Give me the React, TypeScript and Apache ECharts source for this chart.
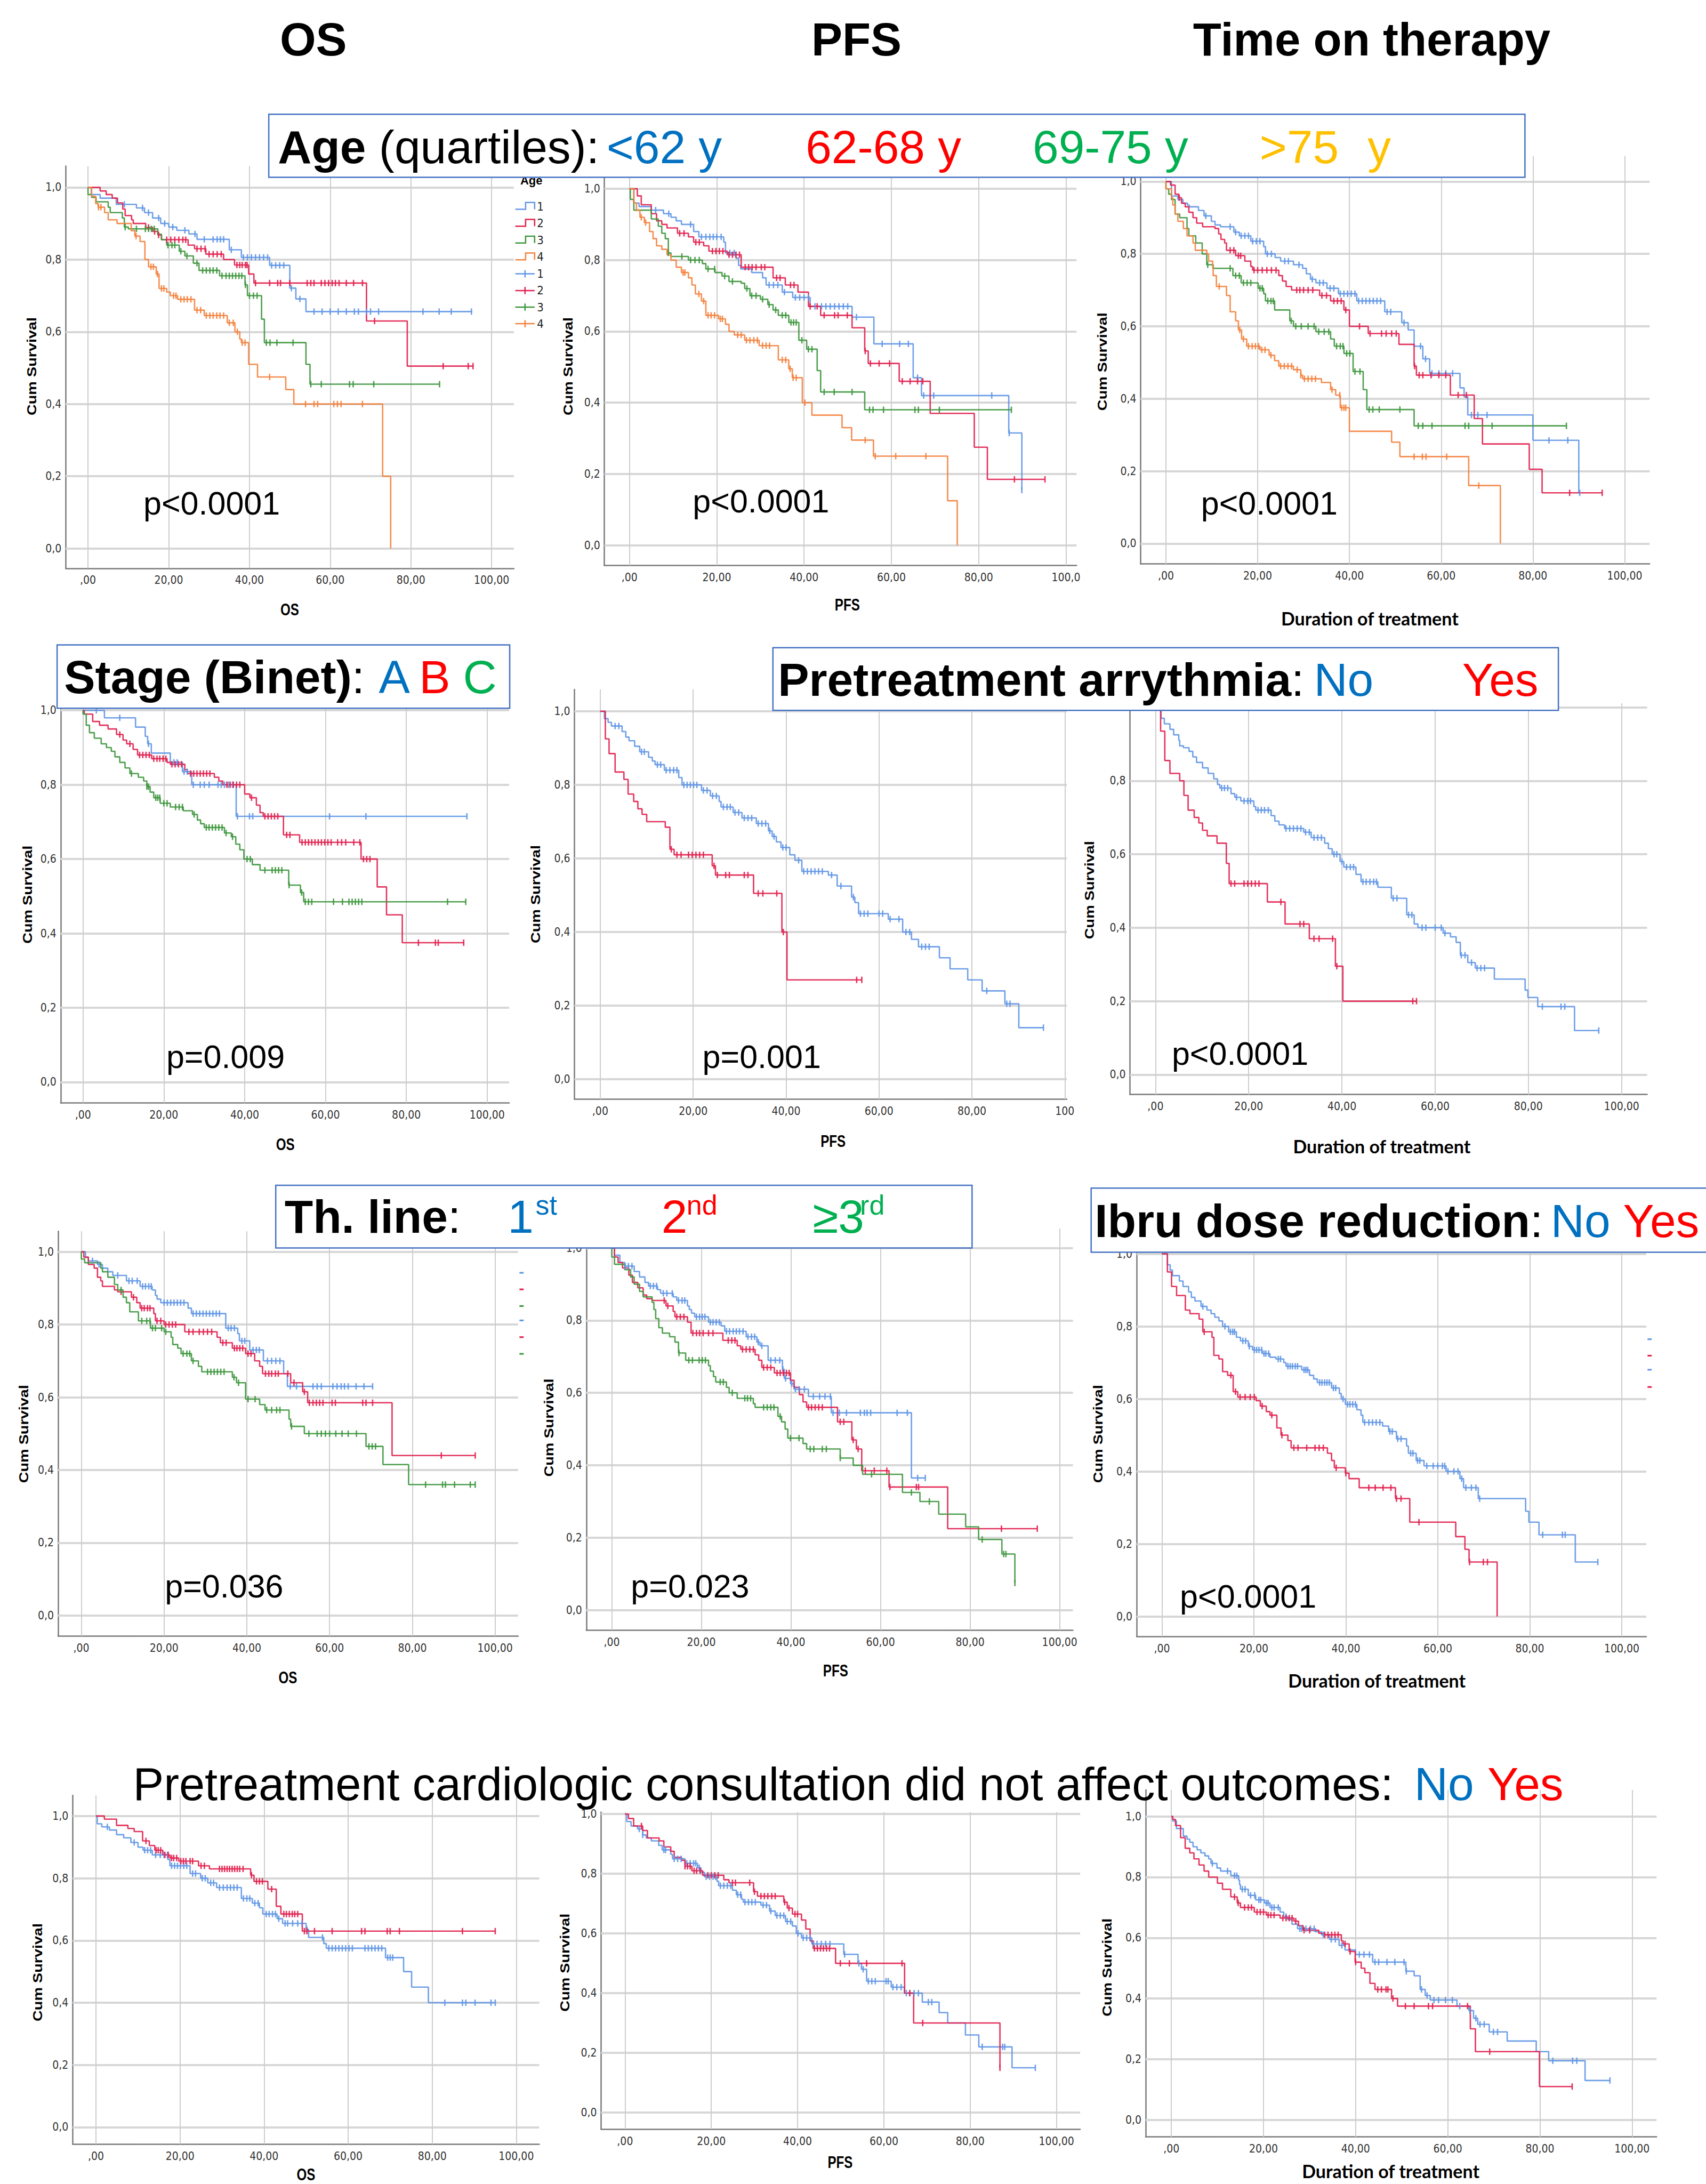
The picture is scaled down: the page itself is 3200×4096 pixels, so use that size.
import React, { useEffect, useRef } from 'react';
import * as echarts from 'echarts';

const S = 3200 / 1225;
const ARIAL = "'Liberation Sans', Arial, Helvetica, sans-serif";
const NARROW = "'Liberation Sans Narrow', 'Arial Narrow', 'DejaVu Sans Condensed', 'Liberation Sans', sans-serif";
const CAL = "Lato, 'Open Sans', 'Liberation Sans', sans-serif";

const BLUE = '#6297e6';
const RED = '#e2224f';
const GREEN = '#3f973f';
const ORANGE = '#f4823f';
const H_BLUE = '#0070C0';
const H_RED = '#FF0000';
const H_GREEN = '#00B050';
const H_AMBER = '#FFC000';

const xTickValues = [0, 20, 40, 60, 80, 100];
const yTickValues = [0, 0.2, 0.4, 0.6, 0.8, 1];

// ---------- Row 1: Age quartiles ----------
const osAgeQ1Steps = [[0.8,0.98],[3,0.97],[7,0.953],[12,0.943],[14,0.93],[16,0.915],[18,0.9],[20,0.89],[22,0.881],[25,0.871],[27,0.856],[35,0.827],[38,0.806],[45,0.784],[50,0.721],[51.5,0.691],[54,0.656],[95.2,0.656]];
const osAgeQ1Cens = [9,13.5,15,17.5,19,21,24,26.5,28.8,31,32,32.8,33.6,35.5,38.5,39.5,40.5,41.5,42.5,43.5,44.5,45.5,46.5,47.5,48.5,50.4,52.5,56,58,60,62,64,66,67,69,70,72,83,87,90,95];
const osAgeQ2Steps = [[3,0.99],[4.5,0.98],[6,0.97],[7.3,0.957],[8.6,0.94],[9.2,0.922],[10.8,0.91],[11.2,0.9],[14.3,0.889],[16,0.878],[17.3,0.868],[18.2,0.855],[24.8,0.84],[26.4,0.83],[29.2,0.815],[33.6,0.8],[36.3,0.785],[39.8,0.76],[41.1,0.735],[69,0.63],[79.1,0.505],[95.4,0.505]];
const osAgeQ2Cens = [15,16.5,17.5,19.5,20.5,21.5,22.5,23.5,24.2,27,28,29,30,31,32,33,36.9,37.6,38.2,39,39.4,41.5,45,47,47.7,50,54.3,55.2,56,57.8,58.7,59.6,60.5,61.3,62.2,64,65.8,68,71,88,94.2,95.4];
const osAgeQ3Steps = [[0,0.98],[0.9,0.972],[2,0.96],[5,0.945],[5.5,0.93],[8.5,0.915],[9,0.89],[10,0.885],[17.3,0.87],[18.2,0.855],[19.5,0.84],[22.6,0.823],[24,0.81],[26.1,0.79],[27.5,0.77],[32.6,0.755],[38.9,0.73],[39.5,0.7],[43,0.635],[43.7,0.57],[54,0.51],[55,0.455],[87.1,0.455]];
const osAgeQ3Cens = [9.2,12,14.2,15,15.7,16.4,19.8,20.8,21.5,23,24.5,27,28.4,29.3,30.2,31,31.9,33.2,34.2,35,35.8,36.6,37.4,38.1,39,40,41,41.9,44.2,45.1,46.8,50.8,55.2,57.8,64.8,65.7,70.8,87.1];
const osAgeQ4Steps = [[0.9,0.975],[1.9,0.955],[2.5,0.945],[4.1,0.93],[5,0.91],[7.2,0.9],[10.7,0.88],[11.6,0.865],[12.9,0.85],[14.1,0.8],[15,0.78],[16.9,0.76],[17.6,0.72],[19.5,0.71],[20.4,0.7],[22.2,0.69],[26.4,0.66],[28.8,0.645],[34.5,0.625],[36.4,0.6],[37.6,0.58],[38,0.57],[39.8,0.51],[42,0.475],[49,0.44],[51,0.4],[73,0.2],[75,0]];
const osAgeQ4Cens = [2.6,3.2,11.9,15.6,16.2,17.2,18.2,18.8,21.2,21.8,23,23.8,24.6,25.5,27,27.9,29.3,30.2,31,31.9,32.7,33.6,35,36,37,38.2,38.9,45,53.9,56,56.9,60.9,61.8,62.7,68];

const pfsAgeQ1Steps = [[1,0.96],[2.2,0.95],[5,0.94],[7.8,0.93],[9.5,0.92],[10.7,0.91],[11.9,0.9],[14.7,0.88],[15.9,0.865],[21.6,0.85],[22,0.82],[24.4,0.805],[25,0.785],[25.5,0.775],[28,0.765],[30.5,0.75],[31.3,0.73],[35,0.71],[37.4,0.695],[41.4,0.67],[51,0.64],[56,0.565],[65,0.47],[66.9,0.42],[86.9,0.315],[89.9,0.155]];
const pfsAgeQ1Cens = [6,9,14,16.5,17.5,18.4,19.2,20,21,23,24,32,33,34,35.5,38,39,40,41,42.5,44,45,46,47,48,49,50,52,57.9,61.9,63.9,66,67.4,69.7,83,87,89.9];
const pfsAgeQ2Steps = [[1.8,0.98],[2.7,0.955],[5,0.93],[6.2,0.91],[7.4,0.9],[8.6,0.89],[11,0.875],[13.5,0.865],[14.7,0.85],[17,0.84],[18.2,0.825],[22.4,0.815],[25.6,0.78],[32.9,0.75],[35.7,0.73],[38.6,0.71],[41,0.67],[43.8,0.645],[51,0.61],[53.9,0.545],[54.7,0.51],[61.8,0.46],[68.9,0.37],[79,0.275],[82,0.185],[95.2,0.185]];
const pfsAgeQ2Cens = [11.5,12.5,15.2,16,19,19.8,20.6,21.4,22.8,23.6,24.4,25.2,26.5,27.3,28.1,29,30.2,31,33.7,34.5,36.9,37.7,41.4,43,44.6,47,47.8,49.9,54,55.2,57.2,59.6,62.5,64.3,66,67.2,88.2,95.2];
const pfsAgeQ3Steps = [[0.2,0.97],[1,0.94],[5,0.915],[6.6,0.895],[7.4,0.875],[8.2,0.86],[8.9,0.82],[9.5,0.81],[13.5,0.8],[16.7,0.79],[17.5,0.775],[19.6,0.765],[21.2,0.755],[22.8,0.74],[25.6,0.735],[26.4,0.72],[27.6,0.7],[30,0.69],[31.7,0.675],[32.9,0.66],[34.1,0.645],[36.5,0.625],[38.8,0.575],[40.6,0.55],[43,0.49],[43.8,0.43],[53.9,0.38],[87.5,0.38]];
const pfsAgeQ3Cens = [8.9,12,14,15,16,18,19.5,21.8,23.6,26.9,28,29,30.5,32,33.5,35,35.8,37,37.6,38.2,39.5,41,41.8,44.6,46.9,51,55,55.8,58.2,65.4,66.2,71,87.5];
const pfsAgeQ4Steps = [[1,0.96],[1.6,0.94],[2.4,0.92],[3.4,0.905],[4.6,0.88],[5.4,0.86],[6.2,0.84],[7.4,0.83],[8.6,0.815],[9.5,0.8],[10.7,0.78],[11.9,0.765],[13.5,0.75],[14.3,0.73],[15.1,0.705],[16.5,0.685],[17.5,0.645],[20.4,0.635],[22,0.62],[22.8,0.6],[24,0.59],[26.4,0.575],[29.7,0.56],[34.1,0.52],[36.5,0.495],[37.3,0.47],[39.6,0.4],[41.8,0.365],[48.7,0.33],[50.9,0.295],[55.9,0.25],[72.9,0.125],[75.1,0]];
const pfsAgeQ4Cens = [2.7,3.7,12.3,12.7,15.9,17,18,18.7,19.5,20.8,21.3,24.8,25.6,26.8,27.6,28.5,29.3,30.5,31.3,32.1,35,35.8,36.8,37.5,38.2,40.2,54,56.3,61,67.9];

const totAgeQ1Steps = [[1.2,0.96],[2.6,0.95],[3.7,0.94],[4.7,0.935],[5.1,0.93],[7.1,0.92],[8.3,0.905],[9.9,0.89],[10.7,0.88],[11.9,0.875],[14.8,0.86],[16,0.85],[18.5,0.835],[21.3,0.82],[21.7,0.8],[23.8,0.79],[25,0.78],[27.8,0.77],[29.8,0.76],[30.6,0.745],[31.5,0.73],[32.7,0.72],[35.1,0.705],[37.6,0.69],[41.6,0.67],[47.7,0.64],[51.4,0.61],[52.8,0.59],[54.1,0.545],[56,0.51],[57.5,0.47],[64.1,0.43],[65,0.405],[65.8,0.355],[80,0.285],[90,0.14],[90.2,0.14]];
const totAgeQ1Cens = [8.7,14,15.2,16.4,17.2,18,18.9,19.7,20.5,22.1,23,25.9,26.7,29,31.9,33.5,34.3,35.8,36.6,38,38.8,39.6,40.4,41.2,42,42.8,43.6,44.4,45.2,46,46.8,48.2,49,51.9,55.5,56.6,58,59.5,61,62.5,66.6,68,70,83.5,87.6,90.2];
const totAgeQ2Steps = [[1,0.99],[2,0.965],[2.8,0.955],[3.4,0.94],[4.2,0.93],[5,0.915],[5.9,0.9],[6.7,0.885],[8,0.875],[10.7,0.87],[11.5,0.855],[12,0.84],[12.8,0.83],[13.2,0.81],[15.2,0.795],[17.2,0.78],[18.5,0.765],[18.9,0.755],[24.6,0.74],[25.4,0.725],[26.2,0.71],[27.4,0.7],[33.5,0.685],[35.9,0.67],[38.8,0.645],[40,0.6],[44.1,0.58],[50.8,0.55],[54.1,0.49],[54.6,0.465],[62,0.41],[67.2,0.345],[69,0.275],[79.2,0.205],[82,0.14],[95.1,0.14]];
const totAgeQ2Cens = [2.9,14,14.8,15.8,16.3,19.2,20,21,22,23,24,28.5,29.2,30,31,32,34,35,36.6,37.4,38.2,39.2,42.2,44.5,47,48,49.2,50.2,54.2,55.2,56,57.8,59.5,61,63.7,65.5,88,95.1];
const totAgeQ3Steps = [[0,0.98],[0.6,0.965],[1.2,0.95],[2,0.91],[3,0.9],[4.6,0.87],[5,0.85],[6.5,0.83],[7.9,0.8],[8.9,0.77],[10.3,0.76],[14.6,0.74],[16.4,0.72],[20.1,0.705],[21.3,0.69],[21.7,0.67],[23.7,0.645],[27,0.615],[27.8,0.6],[32.7,0.585],[35.9,0.565],[36.7,0.545],[38.8,0.525],[40.8,0.475],[43,0.425],[43.8,0.37],[54.1,0.325],[87.3,0.325]];
const totAgeQ3Cens = [9.1,14,15.2,16,16.9,17.7,18.5,20.5,21,22.2,22.9,23.4,27.3,28.3,29.5,31,32.3,33.3,34.5,35.5,37.2,38,38.6,39.4,40.1,41.2,42.3,44.3,45.1,46.5,51,55,56,58,65.2,66,71.1,87.3];
const totAgeQ4Steps = [[0,0.98],[1.2,0.955],[1.5,0.935],[2,0.91],[2.6,0.89],[3.8,0.87],[4.6,0.85],[5.9,0.83],[6.4,0.81],[8.9,0.8],[9.3,0.78],[10.2,0.76],[10.3,0.74],[11,0.71],[13.2,0.685],[14,0.64],[15.2,0.615],[15.8,0.59],[16.5,0.565],[17.6,0.545],[20.5,0.535],[22.5,0.52],[23.7,0.505],[24.6,0.49],[27.8,0.48],[29.4,0.465],[29.8,0.455],[33.9,0.445],[35.9,0.425],[37,0.41],[38,0.375],[40,0.31],[49.2,0.28],[51,0.24],[66,0.16],[72.9,0]];
const totAgeQ4Cens = [11.6,16.1,16.9,18,18.8,19.5,20.2,20.9,21.6,22.9,25,25.8,26.6,27.4,28.6,29.4,30.2,31,31.8,32.6,36.2,37.9,38.3,38.8,39.2,54.1,55.9,56.7,61.2,68.2];

// ---------- Row 2: Binet stage (OS), arrhythmia (PFS, ToT) ----------
const osStageASteps = [[5.3,0.98],[13,0.955],[15.4,0.93],[16,0.91],[16.9,0.885],[21.6,0.86],[24.6,0.835],[26.9,0.8],[37.9,0.715],[95,0.715]];
const osStageACens = [3.3,9.1,16.2,22.5,23.3,25,25.8,27.3,29,30,31.2,33.4,34.2,35,36,37,38.2,41.2,42,61,70,95];
const osStageBSteps = [[0.3,0.99],[2.4,0.97],[4.1,0.96],[6.2,0.95],[8.3,0.935],[9.9,0.92],[10.8,0.91],[12.4,0.895],[13.5,0.88],[17,0.87],[20.8,0.86],[21.6,0.855],[25.2,0.84],[25.8,0.83],[32.5,0.82],[33.6,0.81],[34.6,0.8],[40,0.775],[41.3,0.765],[42.9,0.745],[43.8,0.725],[44.6,0.715],[49.6,0.665],[53.6,0.645],[68.8,0.6],[72.8,0.525],[75.1,0.45],[79,0.375],[94.2,0.375]];
const osStageBCens = [9.1,11.6,14,14.8,15.6,16.4,17.5,18.3,19,19.8,20.5,22,22.8,23.6,24.4,26.6,27.4,28.2,29,29.8,30.6,31.4,35.6,36.4,37.2,38,38.8,41.7,45,45.8,46.6,47.4,48.2,50.4,51.2,54.2,55,55.8,56.6,57.4,58.2,59,59.8,60.6,61.4,63,64,65,67,68.5,69.4,70.2,71,83,87.2,87.9,94.2];
const osStageCSteps = [[0,0.99],[0.8,0.96],[1.6,0.94],[2.8,0.925],[4.5,0.91],[5.8,0.9],[7,0.89],[7.9,0.875],[9.1,0.86],[10.4,0.845],[11.6,0.83],[13.7,0.82],[15,0.81],[15.8,0.795],[16.6,0.78],[17.5,0.765],[19.1,0.75],[21.6,0.74],[24.8,0.73],[27.1,0.72],[28.3,0.705],[29.1,0.695],[30,0.685],[35,0.67],[36.7,0.66],[37.8,0.64],[38.8,0.625],[39.8,0.6],[41.9,0.585],[43.8,0.57],[50.9,0.53],[53.8,0.51],[54.6,0.485],[94.7,0.485]];
const osStageCCens = [12,15.8,16.2,18,18.5,19,20,20.8,22.9,23.8,24.6,27.5,30.5,31.2,32,32.8,33.6,34.4,35.4,37,40.6,41.4,45,46.8,47.6,48.4,49.2,51,54.1,55,55.8,56.6,62,64.2,65.8,66.6,67.4,68.2,69,90.2,94.7];

const pfsArrNoSteps = [[0.9,0.98],[1.7,0.97],[2.4,0.96],[4.7,0.945],[5.5,0.93],[6.2,0.92],[7.4,0.905],[8.5,0.89],[10.4,0.875],[11.2,0.865],[11.8,0.855],[13.8,0.84],[16.9,0.82],[17.6,0.8],[21.8,0.785],[23.7,0.77],[25.6,0.755],[26,0.74],[28.6,0.725],[30.5,0.71],[33.6,0.695],[36.2,0.675],[37,0.66],[37.9,0.645],[38.9,0.63],[40.8,0.61],[41.9,0.595],[43.4,0.565],[49.1,0.555],[51,0.525],[54.1,0.495],[54.8,0.48],[55.6,0.45],[62,0.435],[65.1,0.4],[67,0.38],[68.5,0.36],[73,0.33],[75.3,0.3],[79.1,0.27],[82.2,0.24],[87.1,0.205],[90.1,0.14],[95.4,0.14]];
const pfsArrNoCens = [3.2,4,8.9,9.5,12.3,13,14.2,15,15.8,16.5,18,18.7,19.4,20.1,20.8,22.2,23,24.2,25,26.5,27.3,28,29,29.8,31,31.8,32.6,34,34.8,35.6,36.5,37.4,39.3,40,42.7,43.8,44.6,45.4,46.2,47,47.8,49.8,51.8,54.5,56,56.8,57.6,60,60.8,62.4,64.3,65.8,66.6,69.2,70,70.8,83.2,87.5,88.2,95.4];
const pfsArrYesSteps = [[1.1,0.925],[1.9,0.885],[3.2,0.835],[5.1,0.815],[6,0.775],[7.2,0.755],[8.1,0.735],[9,0.72],[10,0.7],[14,0.685],[15,0.625],[15.9,0.61],[24.1,0.58],[24.8,0.555],[33,0.505],[39.1,0.4],[40.2,0.27],[56.3,0.27]];
const pfsArrYesCens = [15.3,16.5,17.4,19,19.8,20.6,21.4,22.2,24.5,25.2,27,27.8,31,31.8,34,35,38,39.4,55.2,56.3];

const totArrNoSteps = [[1.2,0.97],[1.9,0.955],[3.1,0.94],[3.9,0.925],[5,0.91],[5.2,0.895],[6,0.89],[7.2,0.88],[8,0.865],[8.8,0.85],[10.1,0.835],[11.3,0.82],[12.5,0.805],[13.3,0.79],[13.8,0.78],[16.2,0.765],[17,0.755],[18.3,0.745],[21.1,0.73],[21.5,0.72],[24.8,0.705],[25.6,0.69],[26.5,0.68],[27.7,0.67],[31.8,0.66],[33.4,0.645],[36.3,0.63],[37.1,0.615],[37.9,0.6],[39.6,0.58],[40.4,0.565],[43,0.545],[44.1,0.525],[47.7,0.51],[50.6,0.48],[53.9,0.435],[55.5,0.41],[56.3,0.4],[61.7,0.385],[63.3,0.375],[64.5,0.36],[65.4,0.325],[67,0.305],[68.6,0.29],[72.7,0.26],[79.3,0.23],[79.9,0.21],[82,0.185],[89.9,0.12],[95.1,0.12]];
const totArrNoCens = [14.2,14.8,15.5,17.4,19,19.8,20.4,22,22.7,23.4,24.2,28,28.8,29.6,30.4,31.2,32.2,33,34,34.8,35.6,38.3,38.9,40,41,41.8,42.5,44.5,45.2,46,46.8,47.4,51,51.8,54.3,55,57.2,58,60,61.3,62.1,65.6,66.4,67.8,69,69.8,70.6,83,87,87.8,95.1];
const totArrYesSteps = [[1.1,0.935],[2,0.855],[3.1,0.82],[5.2,0.8],[6.1,0.76],[7,0.72],[8.3,0.7],[9.3,0.685],[10.1,0.665],[11.1,0.65],[13.2,0.63],[15.2,0.575],[15.8,0.52],[24,0.47],[27.8,0.41],[33,0.37],[38.6,0.295],[40.2,0.2],[56,0.2]];
const totArrYesCens = [16.2,17,19,19.8,20.6,21.4,22.2,26.9,31,31.8,34,35.1,38,38.9,55.2,56];

// ---------- Row 3: therapy line (OS, PFS), dose reduction (ToT) ----------
const osLine1Steps = [[1,0.985],[1.7,0.975],[3.9,0.965],[5.1,0.955],[6.4,0.945],[7.6,0.935],[10.9,0.92],[14.2,0.905],[17.1,0.895],[17.9,0.88],[18.3,0.87],[19.2,0.86],[25.8,0.845],[26.6,0.83],[34.9,0.79],[37.8,0.775],[38.2,0.755],[40.7,0.73],[44,0.7],[48.9,0.665],[49.8,0.63],[70.4,0.63]];
const osLine1Cens = [2.7,4.3,8.8,11.5,12.3,13.5,14.8,15.5,16.3,16.9,20,20.8,21.6,22.4,23.2,24,24.8,27,27.8,28.6,29.4,30.2,31,31.8,32.6,33.4,35.5,36.2,37,38.8,39.5,41.5,42.3,43,45,46,47,48,50.5,52,56,57,58,60.8,61.8,62.8,63.6,64.5,66.4,68.3,70.4];
const osLine2Steps = [[0.6,0.985],[1.7,0.965],[3.1,0.955],[3.9,0.93],[4.7,0.92],[5.1,0.905],[8,0.895],[8.8,0.89],[12.1,0.875],[13.4,0.86],[14.2,0.845],[17.5,0.83],[17.9,0.81],[20,0.8],[25,0.78],[32.8,0.765],[33.6,0.75],[36.5,0.735],[39.7,0.72],[41.9,0.7],[43.1,0.685],[43.8,0.665],[50.6,0.64],[53.5,0.615],[54.7,0.585],[75.1,0.44],[95.2,0.44]];
const osLine2Cens = [9.6,12.6,14.6,15.2,16,16.6,18.3,19.2,20.4,21.2,22,22.8,26,27,28.5,29.5,30.5,31.5,34.2,35,37,37.6,38.3,39,40.3,41,44.5,45.3,46,46.9,47.6,49.9,51.4,53.9,55.1,56,56.8,57.6,58.4,60.6,61.4,68,68.8,70.4,87,95.2];
const osLine3Steps = [[0,0.98],[0.8,0.97],[4.7,0.955],[5.1,0.945],[6.4,0.93],[8,0.91],[8.8,0.895],[10.1,0.875],[10.9,0.86],[11.7,0.835],[13.8,0.81],[16.7,0.79],[20,0.78],[21.7,0.765],[22.1,0.745],[23.3,0.735],[24.1,0.72],[26.6,0.7],[28.3,0.685],[29.1,0.67],[36.5,0.655],[37.5,0.64],[39.7,0.595],[43.1,0.58],[44.4,0.565],[50.2,0.54],[50.6,0.52],[53.9,0.5],[68.8,0.465],[72.9,0.415],[79.1,0.36],[95.2,0.36]];
const osLine3Cens = [9.6,14.6,15.8,16.6,17.2,17.9,19.4,20.4,24.6,25.5,26.2,27,30.5,31.3,32.1,32.9,33.7,34.5,36.9,38,40.3,42,44.8,46,47.2,48,50.8,55,57,58,59,60,61.5,63,64.5,66.5,69.5,70.3,71.1,83.2,87.3,88,90.2,94,95.2];

const pfsLine1Steps = [[0.6,0.98],[1.8,0.96],[2.9,0.95],[5,0.935],[6.2,0.92],[7.4,0.905],[8.2,0.895],[10.2,0.885],[10.9,0.875],[13.7,0.865],[14.5,0.855],[16.9,0.84],[17.3,0.83],[17.8,0.82],[18.5,0.81],[21.6,0.795],[24.4,0.785],[25.2,0.77],[30,0.755],[32.4,0.74],[33.1,0.73],[34.9,0.69],[38.1,0.665],[38.5,0.64],[39.9,0.625],[40.7,0.61],[43.9,0.59],[49,0.545],[66.9,0.365],[70,0.365]];
const pfsLine1Cens = [3,3.7,4.5,8.6,9.3,10,11.5,12.3,13.5,14.9,15.7,16.3,18.9,19.6,20.2,20.8,22,22.6,23.3,24,25.6,26.3,27.1,27.8,28.5,29.3,30.4,31.2,31.9,32.7,33.5,35.5,36.5,37.5,38.2,38.8,40.2,41,41.8,43,45,46.4,47.6,48.8,49.4,50.8,52.4,55.5,56.4,57,57.8,63.7,66,68.3,70];
const pfsLine2Steps = [[0.6,0.975],[1.4,0.96],[2.4,0.945],[3.8,0.925],[4.6,0.905],[5.8,0.89],[7,0.87],[7.8,0.86],[9,0.855],[12.1,0.84],[13.7,0.825],[14.1,0.81],[16.9,0.795],[17.7,0.765],[24.8,0.745],[28,0.73],[28.8,0.72],[32,0.705],[32.8,0.69],[33.5,0.67],[36.3,0.655],[39.9,0.635],[40.7,0.615],[41.9,0.595],[42.7,0.575],[43.5,0.56],[50.4,0.52],[53.6,0.47],[54.6,0.445],[55.8,0.385],[61.9,0.34],[75,0.225],[95,0.225]];
const pfsLine2Cens = [11.7,12.5,14.5,15.3,16.1,18.1,18.9,19.6,20.4,21.6,22.6,26,26.8,27.5,29.2,30,30.8,31.6,33.9,34.7,35.5,36.9,37.6,38.3,39,39.6,43.9,44.6,45.4,46.2,47,51,51.8,53.9,55,56.6,58.6,61.4,62.1,68,68.5,87,95];
const pfsLine3Steps = [[0,0.975],[0.6,0.955],[2.9,0.94],[4.2,0.92],[5,0.9],[6.2,0.88],[7,0.865],[9,0.85],[9.4,0.83],[9.8,0.805],[10.5,0.78],[11.3,0.765],[12.9,0.755],[14.1,0.74],[14.9,0.71],[16.5,0.69],[21.6,0.675],[22,0.66],[22.7,0.645],[23.2,0.63],[25.6,0.615],[26.2,0.6],[28,0.585],[31.6,0.57],[32,0.56],[37.1,0.535],[37.9,0.52],[38.7,0.5],[39.3,0.475],[42.7,0.46],[43.5,0.445],[51,0.42],[53.9,0.4],[56,0.375],[64.9,0.325],[68.8,0.3],[73,0.265],[79,0.23],[81.9,0.195],[87.1,0.155],[90,0.075]];
const pfsLine3Cens = [15,17.2,18,19.5,20.2,20.9,24.2,24.9,26.9,29.7,30.3,31,33.9,34.7,35.5,36.2,37.6,39.9,41.8,44.3,45.1,47,47.9,51,58,66.9,70.9,82.7,87.5,88,90];

const totDoseNoSteps = [[1.2,0.97],[1.8,0.955],[2.3,0.94],[3.8,0.925],[4.6,0.91],[5.8,0.895],[6.4,0.88],[7.2,0.87],[8.5,0.855],[9.8,0.845],[10.7,0.835],[11.5,0.825],[12.4,0.815],[13.2,0.8],[14.5,0.785],[16.2,0.77],[17.1,0.76],[18.8,0.745],[19.7,0.735],[21.8,0.725],[23.5,0.715],[24.8,0.71],[26.5,0.7],[27,0.69],[30.4,0.68],[32.1,0.665],[33,0.655],[33.8,0.645],[36.9,0.63],[38.6,0.615],[39,0.6],[39.9,0.585],[42.4,0.57],[43.3,0.555],[43.7,0.535],[48,0.525],[49.3,0.51],[51,0.49],[53.2,0.47],[53.6,0.45],[55.3,0.43],[57,0.415],[61.8,0.4],[64.8,0.38],[65.6,0.355],[68.8,0.325],[79.1,0.29],[79.8,0.26],[82,0.225],[89.9,0.15],[94.8,0.15]];
const totDoseNoCens = [8.9,13.7,14.9,15.4,15.8,17.6,18.2,19,20.1,20.6,21.1,21.7,22.2,22.6,23.2,25.3,25.8,27.4,27.9,28.4,29,29.5,30.9,31.3,31.7,34.3,34.8,35.4,35.9,36.4,37.3,37.8,39.4,40.4,40.9,41.5,42.1,44.1,45,45.8,46.6,47.4,49.6,50.1,51.3,52,54.1,54.6,55.6,56.1,57.6,59,60,61,61.5,62.2,63.5,64.4,65.2,66.1,67.3,68.3,69.1,82.8,87.1,87.7,94.8];
const totDoseYesSteps = [[1.2,0.95],[2.1,0.91],[3.2,0.885],[5.1,0.845],[6.1,0.835],[8.1,0.82],[8.9,0.785],[10.9,0.77],[11.3,0.72],[12.4,0.71],[13.2,0.675],[14.3,0.665],[15.5,0.62],[16.5,0.605],[20.5,0.595],[21.4,0.58],[22.7,0.565],[23.5,0.555],[25,0.52],[25.9,0.5],[27.4,0.485],[28.1,0.465],[36,0.45],[36.9,0.43],[37.5,0.41],[39.9,0.395],[40.7,0.38],[42.9,0.355],[50.8,0.325],[53.9,0.26],[63.9,0.22],[65.9,0.185],[66.8,0.15],[72.9,0]];
const totDoseYesCens = [9.2,15,16,17,18.1,19.2,20.1,21.8,23.9,26.1,28.7,29.6,31.5,33.3,34.2,35.1,37.9,40,45,46.4,48.1,49.8,51,52,55.9,66.9,69.9,70.8];

// ---------- Row 4: cardiologic consultation ----------
const osCardNoSteps = [[0.3,0.975],[1.4,0.965],[3.2,0.955],[4.9,0.94],[6.6,0.93],[8.3,0.915],[10,0.9],[11.2,0.89],[13.4,0.875],[17.1,0.86],[17.6,0.84],[22.4,0.815],[24.9,0.8],[26.6,0.785],[28.7,0.77],[34.6,0.735],[37.2,0.72],[38.9,0.705],[39.7,0.685],[43.1,0.67],[44.4,0.655],[50,0.635],[50.6,0.61],[54.2,0.59],[54.8,0.575],[68.9,0.545],[73.2,0.5],[75.1,0.45],[79.1,0.4],[95,0.4]];
const osCardNoCens = [2.7,9.1,11.6,12.3,13,14.2,15.3,16.2,17,18,18.7,19.4,20.1,20.9,21.6,23,23.7,25.3,26,27.3,28,29.4,30.3,31.2,32,32.8,33.6,35.1,35.9,36.6,37.8,38.6,40.5,41.2,42,42.7,43.5,45,45.6,46.8,48,49,50.2,53.9,55.4,56.2,57,57.8,58.6,59.4,60.2,61,64,64.8,65.6,66.4,67.2,68,69.4,70,70.6,83,87.2,88,90.2,94,95];
const osCardYesSteps = [[2,0.99],[4.9,0.97],[7.6,0.96],[9.1,0.95],[11.1,0.92],[12.7,0.905],[14,0.89],[15.9,0.875],[17.6,0.865],[19.7,0.855],[24.4,0.84],[27,0.83],[36.8,0.81],[37.6,0.79],[40.9,0.765],[42.9,0.71],[44,0.685],[49.1,0.63],[95,0.63]];
const osCardYesCens = [11.9,14.3,14.8,15.4,16.4,17.2,18,18.5,19.2,20.2,20.8,21.4,22.4,23,25,25.8,29.4,30,30.6,31.2,31.8,32.4,33,33.6,34.2,35,37,38.2,38.9,39.6,41.8,44.7,45.3,46,46.7,47.3,48,49.6,50.2,52,56.2,63.2,64,69.3,70,72.2,87.2,95];

const pfsCardNoSteps = [[0.4,0.975],[1.4,0.96],[2.9,0.95],[4.1,0.93],[4.9,0.92],[6.1,0.91],[7.8,0.895],[8.6,0.88],[10.6,0.865],[11,0.85],[13.9,0.835],[16.8,0.82],[17.6,0.805],[18.4,0.79],[21.3,0.775],[21.7,0.76],[24.9,0.745],[25.8,0.73],[27,0.715],[27.4,0.705],[31.5,0.695],[33.5,0.675],[34.8,0.66],[37.2,0.64],[38.8,0.625],[39.7,0.6],[40.9,0.585],[43.3,0.565],[50.7,0.53],[54,0.5],[54.8,0.48],[56,0.44],[61.7,0.42],[64.8,0.4],[68.9,0.37],[72.8,0.335],[74.8,0.3],[78.9,0.26],[82,0.22],[89.7,0.15],[95.1,0.15]];
const pfsCardNoCens = [3.3,4.1,9,9.4,11.4,12.2,13,14.3,15.1,15.9,16.4,17.2,18.8,19.6,20.4,21,22.1,22.9,23.7,24.5,26.1,26.8,27.8,28.6,29.4,30.2,32,32.8,33.8,35.2,36,36.8,37.6,38.4,40.1,41.3,42.1,42.9,43.7,44.5,45.5,46.5,47.5,50.9,54.2,55.2,56.4,57.2,58,60.5,61,62.1,63,64,65.2,66,67,68,70.3,71.1,82.8,87.5,88,95.1];
const pfsCardYesSteps = [[0.8,0.985],[2,0.96],[4.1,0.945],[5.2,0.92],[7.9,0.91],[9,0.89],[10.6,0.875],[11.4,0.855],[13.1,0.845],[13.9,0.825],[15.5,0.81],[18,0.795],[22.9,0.78],[24.1,0.77],[29.8,0.74],[30.7,0.725],[36.8,0.705],[37.6,0.685],[38.8,0.665],[40.9,0.645],[41.9,0.615],[42.9,0.575],[43.6,0.55],[48.8,0.5],[64.8,0.4],[66.9,0.3],[86.9,0.15]];
const pfsCardYesCens = [3.8,13.9,14.5,15.1,16,16.6,17.4,19.2,20,20.8,21.6,24.9,25.6,28.9,30,31.5,32.3,33.1,34,34.8,37,38,39.4,40,43.9,44.6,45.3,46,46.7,47.4,49.9,52,56,64.2,66,69,86.9];

const totCardNoSteps = [[0.3,0.985],[1.1,0.96],[2.6,0.935],[3.4,0.925],[4,0.915],[4.7,0.9],[5.6,0.89],[6.4,0.88],[7.3,0.87],[8.1,0.86],[8.6,0.845],[9.9,0.83],[10.7,0.82],[12.9,0.805],[14.6,0.79],[14.8,0.775],[15,0.76],[16.7,0.74],[18.3,0.725],[20.2,0.715],[21.4,0.7],[23.6,0.685],[24.4,0.67],[25.3,0.66],[26.2,0.645],[27.4,0.63],[31.3,0.62],[32.6,0.61],[34.3,0.595],[36.4,0.575],[37.7,0.56],[40,0.545],[43.7,0.52],[50.9,0.49],[52.7,0.475],[54,0.43],[55.1,0.41],[56.2,0.395],[62,0.375],[64.6,0.36],[65.6,0.335],[66.5,0.315],[69,0.29],[72.9,0.26],[79.2,0.225],[81.9,0.195],[89.8,0.13],[95.2,0.13]];
const totCardNoCens = [8.9,12.2,13.7,14.2,15.4,16,17.2,18.1,19,19.4,20.6,21,21.8,22.3,23.2,24.9,27.9,28.3,29.2,30.2,31,33,34.7,35.6,37,40.8,41.8,43,44.2,45,46.8,48.5,50.5,51,54.3,55.5,57,58,59.5,61,62.6,64.8,66.1,67,67.9,69.9,70.8,82.8,87.1,88,95.2];
const totCardYesSteps = [[0.3,0.99],[0.9,0.97],[2,0.93],[3,0.895],[4,0.88],[4.9,0.86],[6,0.84],[7.1,0.82],[8.1,0.8],[10,0.78],[11.1,0.76],[12.9,0.735],[14.3,0.715],[15,0.7],[18,0.685],[20.6,0.675],[23.6,0.665],[26.6,0.655],[27.6,0.64],[28.6,0.625],[32,0.615],[33,0.61],[36.9,0.59],[37.3,0.58],[38.6,0.555],[39.9,0.52],[41.2,0.5],[42,0.485],[43.1,0.45],[44.2,0.43],[47.8,0.4],[49.1,0.375],[64.9,0.3],[66,0.225],[79.9,0.11],[87,0.11]];
const totCardYesCens = [13.7,14.5,15.9,16.7,17.4,18.6,19.3,20,21,21.6,22.3,24.2,24.9,25.6,26.2,27,28.8,30,33.3,34,34.8,35.5,36.2,37.7,38.8,40,44.8,45.6,46.6,47,48.1,50.8,52.7,55.8,56.7,64.3,69.1,87];

// ---------- layout (reference pixels at 1225-wide scale) ----------
// g: [axisLeft, rightEnd, top, axisBottom, px of x=0, px of x=100, px of y=1, px of y=0]
const panels: any[] = [
  { g: [47.2, 369, 119.2, 408, 63.2, 353, 134.5, 393.8], xt: 'OS', xtp: [208, 437.8], cs: [23, 263], p: 'p<0.0001', pp: [103, 361.5], last: '100,00', top1: true,
    curves: [[osAgeQ1Steps, osAgeQ1Cens, BLUE], [osAgeQ2Steps, osAgeQ2Cens, RED], [osAgeQ3Steps, osAgeQ3Cens, GREEN], [osAgeQ4Steps, osAgeQ4Cens, ORANGE]] },
  { g: [434, 773, 127.7, 406, 452, 765.4, 135.5, 391.5], xt: 'PFS', xtp: [608.4, 434.4], cs: [408, 263], p: 'p<0.0001', pp: [497.4, 360], last: '100,0', top1: true,
    curves: [[pfsAgeQ1Steps, pfsAgeQ1Cens, BLUE], [pfsAgeQ2Steps, pfsAgeQ2Cens, RED], [pfsAgeQ3Steps, pfsAgeQ3Cens, GREEN], [pfsAgeQ4Steps, pfsAgeQ4Cens, ORANGE]] },
  { g: [819, 1184.5, 112, 404.9, 837.2, 1166.6, 130.3, 390.2], xt: 'Duration of treatment', xtp: [983.6, 444], cs: [791.6, 259.6], p: 'p<0.0001', pp: [862.4, 361.5], last: '100,00', top1: true,
    curves: [[totAgeQ1Steps, totAgeQ1Cens, BLUE], [totAgeQ2Steps, totAgeQ2Cens, RED], [totAgeQ3Steps, totAgeQ3Cens, GREEN], [totAgeQ4Steps, totAgeQ4Cens, ORANGE]] },
  { g: [43.6, 365.6, 497, 791.8, 59.6, 349.8, 510, 776.9], xt: 'OS', xtp: [204.9, 821.7], cs: [19.9, 642.3], p: 'p=0.009', pp: [119.4, 758.7], last: '100,00', top1: true,
    curves: [[osStageASteps, osStageACens, BLUE], [osStageBSteps, osStageBCens, RED], [osStageCSteps, osStageCCens, GREEN]] },
  { g: [412.5, 766, 495, 789.2, 431, 764.6, 510.7, 774.8], xt: 'PFS', xtp: [598.2, 819.2], cs: [384.7, 642], p: 'p=0.001', pp: [504.4, 758.7], last: '100', top1: true,
    curves: [[pfsArrNoSteps, pfsArrNoCens, BLUE], [pfsArrYesSteps, pfsArrYesCens, RED]] },
  { g: [811.4, 1182.7, 505, 785.8, 829.7, 1164.4, 507.8, 771.5], xt: 'Duration of treatment', xtp: [992.2, 822.7], cs: [782.6, 639], p: 'p<0.0001', pp: [841.4, 756.6], last: '100,00', top1: false,
    curves: [[totArrNoSteps, totArrNoCens, BLUE], [totArrYesSteps, totArrYesCens, RED]] },
  { g: [41.7, 372, 884, 1174.6, 58.4, 355.5, 898.7, 1159.9], xt: 'OS', xtp: [206.7, 1204.3], cs: [17.2, 1029.5], p: 'p=0.036', pp: [118.4, 1138.7], last: '100,00', top1: true,
    curves: [[osLine1Steps, osLine1Cens, BLUE], [osLine2Steps, osLine2Cens, RED], [osLine3Steps, osLine3Cens, GREEN]] },
  { g: [421, 770.4, 882, 1170.4, 439.3, 760.9, 896, 1156], xt: 'PFS', xtp: [600, 1199.5], cs: [394.2, 1025], p: 'p=0.023', pp: [453, 1138.7], last: '100,00', top1: true,
    curves: [[pfsLine1Steps, pfsLine1Cens, BLUE], [pfsLine2Steps, pfsLine2Cens, RED], [pfsLine3Steps, pfsLine3Cens, GREEN]] },
  { g: [816.2, 1182.1, 887, 1174.9, 834.3, 1164.5, 900.2, 1160.5], xt: 'Duration of treatment', xtp: [988.7, 1206.4], cs: [788.7, 1029.5], p: 'p<0.0001', pp: [847.2, 1146.3], last: '100,00', top1: true,
    curves: [[totDoseNoSteps, totDoseNoCens, BLUE], [totDoseYesSteps, totDoseYesCens, RED]] },
  { g: [52.2, 387.2, 1289, 1539.4, 68.9, 370.7, 1303.8, 1527.2], xt: 'OS', xtp: [219.7, 1561.4], cs: [27, 1416], p: '', pp: [0, 0], last: '100,00', top1: true,
    curves: [[osCardNoSteps, osCardNoCens, BLUE], [osCardYesSteps, osCardYesCens, RED]] },
  { g: [431.6, 775.6, 1301, 1528.6, 448.8, 758.6, 1302.4, 1516.7], xt: 'PFS', xtp: [603.3, 1552.6], cs: [405.7, 1409], p: '', pp: [0, 0], last: '100,00', top1: true,
    curves: [[pfsCardNoSteps, pfsCardNoCens, BLUE], [pfsCardYesSteps, pfsCardYesCens, RED]] },
  { g: [822.7, 1189.5, 1285, 1534.2, 841.1, 1171.9, 1304.1, 1522], xt: 'Duration of treatment', xtp: [998.6, 1558.6], cs: [795, 1412.5], p: '', pp: [0, 0], last: '100,00', top1: true,
    curves: [[totCardNoSteps, totCardNoCens, BLUE], [totCardYesSteps, totCardYesCens, RED]] },
];

function survAt(steps: number[][], t: number) {
  let s = 1;
  for (const [x, y] of steps) {
    if (x <= t) s = y; else break;
  }
  return s;
}

function T(text: string, x: number, y: number, size: number, o: any = {}) {
  const align = o.align || 'left';
  return {
    type: 'text', x: x * S, y: y * S, rotation: o.rot || 0, scaleX: o.sx || 1, scaleY: o.sy || 1,
    z: o.z || 101, silent: true,
    style: {
      text, fill: o.fill || '#000', fontSize: size, fontFamily: o.ff || ARIAL, fontWeight: o.fw || 'normal',
      align, verticalAlign: 'middle', textAlign: align, textVerticalAlign: 'middle', rich: o.rich,
    },
  };
}

function R(x1: number, y1: number, x2: number, y2: number) {
  return {
    type: 'rect', z: 100, silent: true,
    shape: { x: x1 * S, y: y1 * S, width: (x2 - x1) * S, height: (y2 - y1) * S },
    style: { fill: '#ffffff', stroke: '#4472C4', lineWidth: 2.5 },
  };
}

function buildOption() {
  const grids: any[] = [];
  const xAxes: any[] = [];
  const yAxes: any[] = [];
  const series: any[] = [];
  const graphics: any[] = [];

  panels.forEach((pn, i) => {
    const [axL, rE, top, axB, x0, x100, y1, y0] = pn.g;
    grids.push({ left: axL * S, top: top * S, width: (rE - axL) * S, height: (axB - top) * S });
    const xmin = ((axL - x0) / (x100 - x0)) * 100;
    const xmax = ((rE - x0) / (x100 - x0)) * 100;
    const ymin = (y0 - axB) / (y0 - y1);
    const ymax = (y0 - top) / (y0 - y1);
    xAxes.push({
      type: 'value', gridIndex: i, min: xmin, max: xmax, z: 0,
      axisLine: { show: true, onZero: false, lineStyle: { color: '#7a7a7a', width: 2.5 } },
      axisTick: { show: false }, splitLine: { show: false },
      axisLabel: {
        customValues: xTickValues, margin: 12, fontSize: 21, fontFamily: NARROW, color: '#333',
        formatter: (v: number) => (v === 0 ? ',00' : v === 100 ? pn.last : v.toFixed(2).replace('.', ',')),
      },
    });
    yAxes.push({
      type: 'value', gridIndex: i, min: ymin, max: ymax, z: 0,
      axisLine: { show: true, onZero: false, lineStyle: { color: '#7a7a7a', width: 2.5 } },
      axisTick: { show: false }, splitLine: { show: false },
      axisLabel: {
        customValues: pn.top1 ? yTickValues : yTickValues.slice(0, 5), margin: 8, fontSize: 21, fontFamily: NARROW, color: '#333',
        formatter: (v: number) => v.toFixed(1).replace('.', ','),
      },
    });
    series.push({
      type: 'line', xAxisIndex: i, yAxisIndex: i, data: [], z: 1, silent: true,
      markLine: {
        z: 1, silent: true, symbol: ['none', 'none'], label: { show: false }, animation: false,
        data: [
          ...yTickValues.map((v) => ({ yAxis: v, lineStyle: { color: '#d7d7d7', width: 4, type: 'solid' } })),
          ...xTickValues.map((v) => ({ xAxis: v, lineStyle: { color: '#cdcdcd', width: 2, type: 'solid' } })),
        ],
      },
    });
    pn.curves.forEach(([steps, cens, color]: any) => {
      series.push({
        type: 'line', step: 'end', xAxisIndex: i, yAxisIndex: i, z: 6, silent: true,
        data: [[0, 1], ...steps], showSymbol: false, symbol: 'none',
        lineStyle: { color, width: 2.6, opacity: 0.92 }, itemStyle: { color },
      });
      series.push({
        type: 'scatter', xAxisIndex: i, yAxisIndex: i, z: 7, silent: true,
        data: cens.map((t: number) => [t, survAt(steps, t)]),
        symbol: 'rect', symbolSize: [2.6, 12], itemStyle: { color, opacity: 0.92 },
      });
    });

    // axis titles
    graphics.push(T('Cum Survival', pn.cs[0], pn.cs[1], 24, { fw: 'bold', rot: Math.PI / 2, sx: 1.2, align: 'center' }));
    if (pn.xt === 'Duration of treatment') {
      graphics.push(T(pn.xt, pn.xtp[0], pn.xtp[1], 34, { ff: CAL, fw: 'bold', align: 'center' }));
    } else {
      graphics.push(T(pn.xt, pn.xtp[0], pn.xtp[1], 31, { fw: 'bold', align: 'center', sx: 0.78 }));
    }
    if (pn.p) graphics.push(T(pn.p, pn.pp[0], pn.pp[1], 61));
  });

  const HF = 87.5;
  const rb = { fontWeight: 'bold', fontSize: HF, fontFamily: ARIAL, fill: '#000' };
  const rr = { fontSize: HF, fontFamily: ARIAL, fill: '#000' };

  // column titles
  graphics.push(T('OS', 225, 28, 87, { fw: 'bold', align: 'center' }));
  graphics.push(T('PFS', 615, 28, 87, { fw: 'bold', align: 'center' }));
  graphics.push(T('Time on therapy', 985, 28, 87, { fw: 'bold', align: 'center' }));

  // Row 1 header
  graphics.push(T('Age', 373.6, 129.5, 22, { fw: 'bold', z: 99 }));
  graphics.push(R(193, 82, 1095, 127.3));
  graphics.push(T('{b|Age}{r| (quartiles):}', 199.5, 105.5, HF, { rich: { b: rb, r: rr } }));
  graphics.push(T('<62 y', 435.5, 105.5, HF, { fill: H_BLUE }));
  graphics.push(T('62-68 y', 578.5, 105.5, HF, { fill: H_RED }));
  graphics.push(T('69-75 y', 741.5, 105.5, HF, { fill: H_GREEN }));
  graphics.push(T('>75', 904.5, 105.5, HF, { fill: H_AMBER }));
  graphics.push(T('y', 982, 105.5, HF, { fill: H_AMBER }));

  // Row 2 headers
  graphics.push(R(41, 463, 366, 508.5));
  graphics.push(T('{b|Stage (Binet)}{r|:}', 46, 486, HF, { rich: { b: rb, r: rr } }));
  graphics.push(T('A', 272, 486, HF, { fill: H_BLUE }));
  graphics.push(T('B', 301, 486, HF, { fill: H_RED }));
  graphics.push(T('C', 332.5, 486, HF, { fill: H_GREEN }));
  graphics.push(R(555, 465, 1119, 510));
  graphics.push(T('{b|Pretreatment arrythmia}{r|:}', 558.6, 488, HF, { rich: { b: rb, r: rr } }));
  graphics.push(T('No', 943.4, 488, HF, { fill: H_BLUE }));
  graphics.push(T('Yes', 1050, 488, HF, { fill: H_RED }));

  // Row 3 headers
  graphics.push(R(198, 851, 698, 896));
  graphics.push(T('{b|Th. line}{r|:}', 204.3, 873.5, HF, { rich: { b: rb, r: rr } }));
  graphics.push(T('1', 364.5, 873.5, HF, { fill: H_BLUE }));
  graphics.push(T('st', 384.5, 865, 52, { fill: H_BLUE }));
  graphics.push(T('2', 475, 873.5, HF, { fill: H_RED }));
  graphics.push(T('nd', 493, 865, 52, { fill: H_RED }));
  graphics.push(T('\u22653', 583.5, 873.5, HF, { fill: H_GREEN }));
  graphics.push(T('rd', 617.5, 865, 52, { fill: H_GREEN }));
  graphics.push(R(783.5, 853, 1245, 899));
  graphics.push(T('{b|Ibru dose reduction}{r|:}', 786, 876.5, HF, { rich: { b: rb, r: rr } }));
  graphics.push(T('No', 1113.5, 876.5, HF, { fill: H_BLUE }));
  graphics.push(T('Yes', 1165.5, 876.5, HF, { fill: H_RED }));

  // Row 4 title
  graphics.push(T('Pretreatment cardiologic consultation did not affect outcomes:', 95.5, 1281, 86.5));
  graphics.push(T('No', 1015.5, 1281, HF, { fill: H_BLUE }));
  graphics.push(T('Yes', 1068, 1281, HF, { fill: H_RED }));

  // Panel 1 legend (SPSS style)
  const legY = [148.2, 160.3, 172.4, 184.4, 196.6, 208.6, 220.5, 232.4];
  const legC = [BLUE, RED, GREEN, ORANGE, BLUE, RED, GREEN, ORANGE];
  legY.forEach((y, k) => {
    const c = legC[k];
    if (k < 4) {
      graphics.push({
        type: 'polyline', z: 101, silent: true,
        shape: { points: [[370, y + 2.1], [377.4, y + 2.1], [377.4, y - 2.8], [383.9, y - 2.8], [383.9, y + 2.1]].map(([a, b]) => [a * S, b * S]) },
        style: { stroke: c, lineWidth: 2.5, fill: null },
      });
    } else {
      graphics.push({ type: 'line', z: 101, silent: true, shape: { x1: 370 * S, y1: y * S, x2: 383.9 * S, y2: y * S }, style: { stroke: c, lineWidth: 2.5 } });
      graphics.push({ type: 'line', z: 101, silent: true, shape: { x1: 377 * S, y1: (y - 2.6) * S, x2: 377 * S, y2: (y + 2.6) * S }, style: { stroke: c, lineWidth: 2.5 } });
    }
    graphics.push(T(String((k % 4) + 1), 385.6, y, 22, { ff: NARROW, fill: '#222' }));
  });

  // clipped legend marks of panels 7 and 9
  const marks7 = [[913.8, BLUE], [925.7, RED], [937.7, GREEN], [948, BLUE], [960, RED], [972, GREEN]];
  marks7.forEach(([y, c]: any) => graphics.push({ type: 'rect', z: 101, silent: true, shape: { x: 373 * S, y: (y - 0.6) * S, width: 3 * S, height: 1.2 * S }, style: { fill: c } }));
  const marks9 = [[961.5, BLUE], [973.3, RED], [983.4, BLUE], [995.8, RED]];
  marks9.forEach(([y, c]: any) => graphics.push({ type: 'rect', z: 101, silent: true, shape: { x: 1183 * S, y: (y - 0.6) * S, width: 3 * S, height: 1.2 * S }, style: { fill: c } }));

  return {
    animation: false,
    backgroundColor: '#ffffff',
    grid: grids,
    xAxis: xAxes,
    yAxis: yAxes,
    series,
    graphic: { elements: graphics },
  };
}

export default function App() {
  const ref = useRef<HTMLDivElement>(null);
  useEffect(() => {
    document.body.style.margin = '0';
    const chart = echarts.init(ref.current as HTMLDivElement, null, { renderer: 'svg', width: 3200, height: 4096 });
    chart.setOption(buildOption() as any);
    return () => chart.dispose();
  }, []);
  return <div ref={ref} style={{ position: 'absolute', left: 0, top: 0, width: 3200, height: 4096, background: '#fff' }} />;
}
